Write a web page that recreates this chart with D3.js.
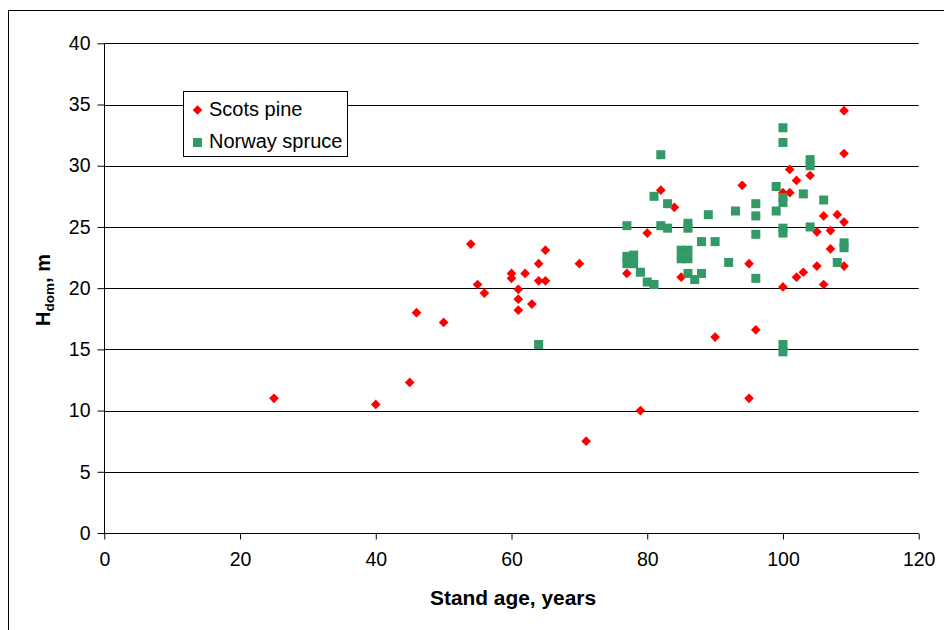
<!DOCTYPE html>
<html>
<head>
<meta charset="utf-8">
<script src="https://cdn.jsdelivr.net/npm/d3@7"></script>
<style>
  html, body { margin: 0; padding: 0; background: #fff; }
  svg { display: block; font-family: "Liberation Sans", Arial, sans-serif; }
</style>
</head>
<body>
<svg id="chart" width="944" height="630"></svg>
<script>
// ---- data ----
const pineAge    = [25, 40, 45, 46, 50, 54, 55, 56, 60, 60, 61, 61, 61, 62, 63, 64, 64, 65, 65, 70, 71, 77, 79, 80, 82, 84, 85, 90, 94, 95, 95, 96, 100, 100, 101, 101, 102, 102, 103, 104, 105, 105, 106, 106, 107, 107, 108, 109, 109, 109, 109];
const pineHdom   = [11.0, 10.5, 12.3, 18.0, 17.2, 23.6, 20.3, 19.6, 21.2, 20.8, 19.9, 19.1, 18.2, 21.2, 18.7, 22.0, 20.6, 23.1, 20.6, 22.0, 7.5, 21.2, 10.0, 24.5, 28.0, 26.6, 20.9, 16.0, 28.4, 22.0, 11.0, 16.6, 27.8, 20.1, 29.7, 27.8, 28.8, 20.9, 21.3, 29.2, 24.6, 21.8, 25.9, 20.3, 24.7, 23.2, 26.0, 34.5, 31.0, 25.4, 21.8];
const spruceAge  = [64, 77, 77, 78, 77, 78, 79, 80, 81, 81, 82, 82, 83, 83, 85, 86, 85, 86, 86, 86, 86, 87, 88, 88, 89, 90, 92, 93, 96, 96, 96, 96, 99, 99, 100, 100, 100, 100, 100, 100, 100, 100, 103, 104, 104, 104, 106, 108, 109, 109];
const spruceHdom = [15.4, 25.1, 22.6, 22.7, 22.0, 22.0, 21.3, 20.5, 20.3, 27.5, 30.9, 25.1, 26.9, 24.9, 23.1, 23.1, 22.4, 22.4, 25.3, 24.9, 21.2, 20.7, 23.8, 21.2, 26.0, 23.8, 22.1, 26.3, 26.9, 25.9, 24.4, 20.8, 28.3, 26.3, 33.1, 31.9, 27.4, 27.0, 24.9, 24.5, 15.4, 14.8, 27.7, 30.5, 30.0, 25.0, 27.2, 22.1, 23.7, 23.3];
const xTicks = [0, 20, 40, 60, 80, 100, 120];
const yTicks = [0, 5, 10, 15, 20, 25, 30, 35, 40];
const seriesNames = ["Scots pine", "Norway spruce"];
const xTitle = "Stand age, years";

// ---- layout ----
const svg = d3.select("#chart");
const plotL = 104.3, plotR = 918.7, plotT = 43.3, plotB = 533;
const x = d3.scaleLinear().domain([0, 120]).range([plotL, plotR]);
const y = d3.scaleLinear().domain([0, 40]).range([plotB, plotT]);
const RED = "#ff0000", GREEN = "#339966";

// outer frame
svg.append("rect").attr("x", 8.5).attr("y", 10.5).attr("width", 960).attr("height", 660)
  .attr("fill", "none").attr("stroke", "#000").attr("stroke-width", 1);

// gridlines
svg.append("g").selectAll("line").data(yTicks.filter(d => d > 0)).join("line")
  .attr("x1", plotL).attr("x2", plotR)
  .attr("y1", d => Math.round(y(d)) + 0.5).attr("y2", d => Math.round(y(d)) + 0.5)
  .attr("stroke", "#000").attr("stroke-width", 1);

// y axis
const yAxis = svg.append("g").attr("transform", `translate(${Math.round(plotL) + 0.5},0)`)
  .call(d3.axisLeft(y).tickValues(yTicks).tickSize(7).tickPadding(7).tickFormat(d3.format("d")));
yAxis.select(".domain").attr("stroke", "#000").attr("d", `M0,${y(40)}V${y(0)}`);
yAxis.selectAll(".tick line").attr("stroke", "#000");
yAxis.selectAll(".tick text").attr("font-size", "19.5px").attr("fill", "#000")
  .attr("font-family", "Liberation Sans, Arial, sans-serif");

// x axis
const xAxis = svg.append("g").attr("transform", `translate(0,${Math.round(plotB) + 0.5})`)
  .call(d3.axisBottom(x).tickValues(xTicks).tickSize(6).tickPadding(13).tickFormat(d3.format("d")));
xAxis.select(".domain").attr("stroke", "#000").attr("d", `M${x(0)},0H${x(120)}`);
xAxis.selectAll(".tick line").attr("stroke", "#000");
xAxis.selectAll(".tick text").attr("font-size", "19.5px").attr("fill", "#000")
  .attr("font-family", "Liberation Sans, Arial, sans-serif");

// axis titles
svg.append("text").attr("x", 513).attr("y", 605).attr("text-anchor", "middle")
  .attr("font-size", "19.5px").attr("font-weight", "bold")
  .attr("textLength", 166).attr("lengthAdjust", "spacingAndGlyphs")
  .text(xTitle);

const yt = svg.append("text").attr("transform", "translate(50,290) rotate(-90)")
  .attr("text-anchor", "middle").attr("font-size", "20px").attr("font-weight", "bold");
yt.append("tspan").text("H");
yt.append("tspan").attr("font-size", "13.5px").attr("dy", 4).text("dom");
yt.append("tspan").attr("dy", -4).text(", m");

// markers
const diamond = d3.symbol().type(d3.symbolDiamond2).size(60);
const pine = pineAge.map((a, i) => ({ a, h: pineHdom[i] }));
const spruce = spruceAge.map((a, i) => ({ a, h: spruceHdom[i] }));

svg.append("g").selectAll("path").data(pine).join("path")
  .attr("d", diamond)
  .attr("transform", d => `translate(${x(d.a)},${y(d.h)})`)
  .attr("fill", RED);

svg.append("g").selectAll("rect").data(spruce).join("rect")
  .attr("x", d => x(d.a) - 4.5).attr("y", d => y(d.h) - 4.5)
  .attr("width", 9).attr("height", 9)
  .attr("fill", GREEN);

// legend
const lg = svg.append("g");
lg.append("rect").attr("x", 183.5).attr("y", 91.5).attr("width", 164).attr("height", 65)
  .attr("fill", "#fff").attr("stroke", "#000").attr("stroke-width", 1);
lg.append("path").attr("d", diamond).attr("transform", "translate(197.5,110)").attr("fill", RED);
lg.append("rect").attr("x", 193).attr("y", 138).attr("width", 9).attr("height", 9).attr("fill", GREEN);
lg.append("text").attr("x", 209).attr("y", 116).attr("font-size", "20px").text(seriesNames[0]);
lg.append("text").attr("x", 209).attr("y", 148).attr("font-size", "20px").text(seriesNames[1]);
</script>
</body>
</html>
